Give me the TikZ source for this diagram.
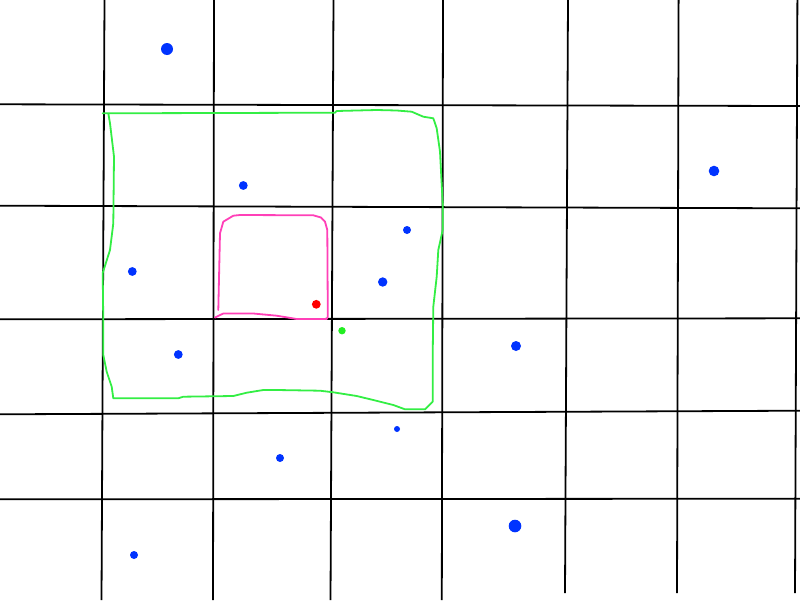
\documentclass[tikz,border=0pt]{standalone}
\usetikzlibrary{calc}
\definecolor{dotblue}{HTML}{0033FF}
\definecolor{penpink}{HTML}{FF40B8}
\definecolor{pengreen}{HTML}{33EE44}
\definecolor{dotgreen}{HTML}{22EE22}
\tikzset{
  gridline/.style={black,line width=1.8pt},
  greenpen/.style={pengreen,line width=1.8pt,line join=round,line cap=round},
  pinkpen/.style={penpink,line width=1.8pt,line join=round,line cap=round},
}
\begin{document}
\begin{tikzpicture}[x=1pt,y=-1pt]
\useasboundingbox[fill=white] (0,0) rectangle (800,600);
% vertical lines
\draw[gridline] (104.5,0) -- (101.5,600);
\draw[gridline] (214,0) -- (213,600);
\draw[gridline] (333.5,0) -- (330.5,600);
\draw[gridline] (443,0) -- (441.8,600);
\draw[gridline] (568,0) -- (565,593);
\draw[gridline] (678.6,0) -- (677,593);
\draw[gridline] (797.4,0) -- (795,593);
% horizontal lines
\draw[gridline] (0,104.3) -- (800,106);
\draw[gridline] (0,205.7) -- (800,208.3);
\draw[gridline] (0,319.3) -- (800,318.3);
\draw[gridline] (0,414.3) -- (800,410.7);
\draw[gridline] (0,499.3) -- (800,498.7);
% green outline
\draw[greenpen] (102.7,113.3) -- (335,112.7) -- (336.7,111) -- (376.7,110) -- (396.7,110.5)
  -- (411.7,111.7) -- (423.3,116.7) -- (433.3,118.3) -- (436.7,128.3) -- (440,151.7)
  -- (442.7,203.3) -- (442.7,230) -- (438.3,250) -- (436.7,276.7) -- (433.3,306.7)
  -- (432.7,356.7) -- (432.7,401.7) -- (425,409.3) -- (405,409.3) -- (393.3,405)
  -- (373.3,400) -- (356.7,396) -- (333.3,392.3) -- (320,390.7) -- (276.7,390)
  -- (263.3,390) -- (246.7,392.7) -- (233.3,396) -- (183.3,396.7) -- (178.3,398.3)
  -- (113.3,398.3) -- (111.7,386.7) -- (106.7,371.7) -- (103.3,355) -- (103.3,323)
  -- (102.7,273) -- (110,250) -- (113.3,223.3) -- (114,156.7) -- (110,123.3) -- (108.3,113.3);
% pink outline
\draw[pinkpen] (218.3,310) -- (220,233.3) -- (223.3,221.7) -- (233.3,215.7) -- (240,215)
  -- (313.3,215.3) -- (321,217.5) -- (325,221.7) -- (327.3,230) -- (327.8,316.7)
  -- (326.7,319) -- (296.7,319) -- (276.7,315.7) -- (253.3,313.5) -- (223.3,313.5) -- (215,317.5);
% dots
\fill[dotblue] (167,49) circle (6);
\fill[dotblue] (243.3,185.5) circle (4.4);
\fill[dotblue] (714,171) circle (5.3);
\fill[dotblue] (407,230) circle (4);
\fill[dotblue] (132.3,271.5) circle (4.4);
\fill[dotblue] (382.7,282) circle (4.7);
\fill[red] (316.3,304.3) circle (4.4);
\fill[dotgreen] (342,330.7) circle (3.7);
\fill[dotblue] (178.3,354.5) circle (4.4);
\fill[dotblue] (516,346) circle (5);
\fill[dotblue] (397,429) circle (3);
\fill[dotblue] (280,458) circle (4);
\fill[dotblue] (515,526) circle (6.3);
\fill[dotblue] (134,555) circle (4);
\end{tikzpicture}
\end{document}
